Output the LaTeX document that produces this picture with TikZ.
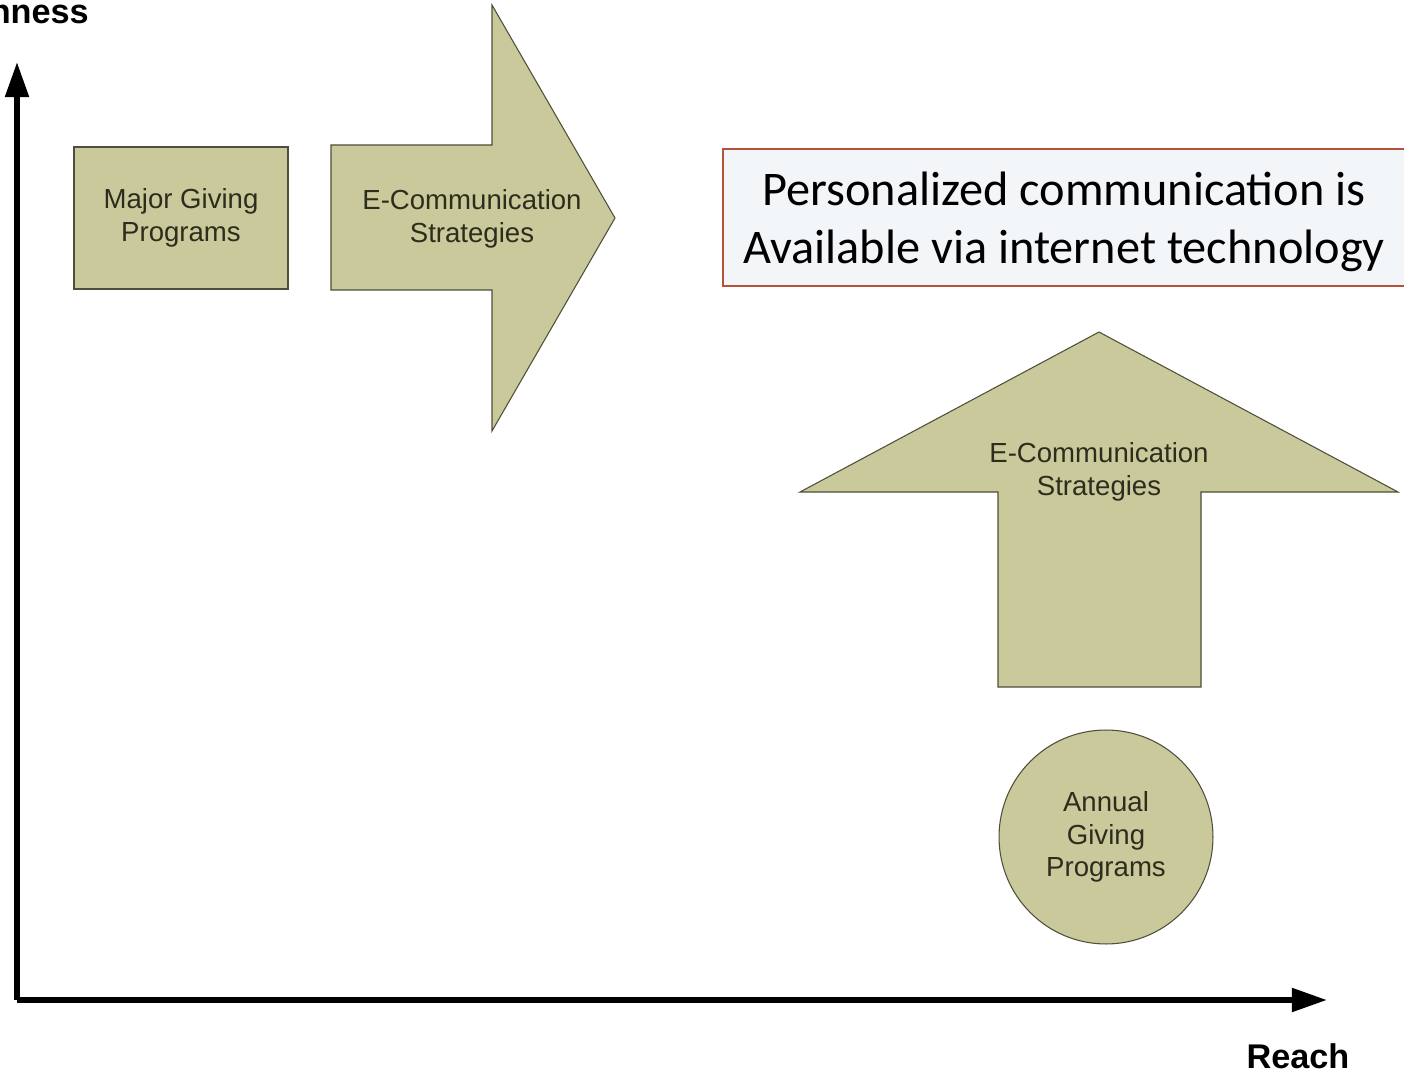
\documentclass[tikz,border=0pt]{standalone}
\usepackage{fontspec}
\setmainfont{Liberation Sans}
\newfontfamily\notefont{Carlito}
\usetikzlibrary{arrows.meta}
\definecolor{olivefill}{RGB}{201,201,155}
\definecolor{oliveline}{RGB}{78,78,58}
\definecolor{olivetext}{RGB}{45,45,30}
\definecolor{notefill}{RGB}{243,246,248}
\definecolor{noteline}{RGB}{180,82,60}
\begin{document}
\begin{tikzpicture}[x=0.02cm,y=-0.02cm,
	blob/.style={fill=olivefill,draw=oliveline,line width=0.6pt},
	blobtext/.style={text=olivetext,align=center,font=\fontsize{15.7}{18.7}\selectfont},
	axis/.style={line width=3.3pt,-{Triangle[length=20pt,width=13pt]}},
	axislabel/.style={font=\fontsize{19.5}{22}\selectfont\bfseries}]
	\useasboundingbox (0,0) rectangle (1404,1071);
	% axes
	\coordinate (origin) at (17,1000);
	\coordinate (ytip) at (17,62);
	\coordinate (xtip) at (1327,1000);
	\draw[axis] (origin)--(ytip);
	\draw[axis] (origin)--(xtip);
	\node[axislabel,anchor=base east] (richness) at (95,24) {Richness};
	\node[axislabel,anchor=base] (reach) at (1298,1068) {Reach};
	% shapes
	\node[blob,blobtext,rectangle,minimum width=4.28cm,minimum height=2.84cm]
	(major) at (181,218) {Major Giving\\Programs};
	\draw[blob] (331,145)--(492,145)--(492,5)--(615,218)--(492,431)--(492,290)--(331,290)--cycle;
	\node[blobtext] (rightarrow) at (472,219) {E-Communication\\Strategies};
	\draw[blob] (1099,332)--(1398,492)--(1201,492)--(1201,687)--(998,687)--(998,492)--(800,492)--cycle;
	\node[blobtext] (uparrow) at (1099,472) {E-Communication\\Strategies};
	\node[blob,blobtext,circle,minimum size=4.28cm,inner sep=0pt]
	(annual) at (1106,837) {Annual\\Giving\\Programs};
	% note
	\node[fill=notefill,draw=noteline,line width=0.8pt,minimum width=13.64cm,minimum height=2.74cm]
	(note) at (1064,217.5) {};
	\node[align=center,font=\notefont\fontsize{27.5}{33}\selectfont]
	(notetext) at (1064,221.5) {Personalized communication is\\Available via internet technology};
\end{tikzpicture}
\end{document}
